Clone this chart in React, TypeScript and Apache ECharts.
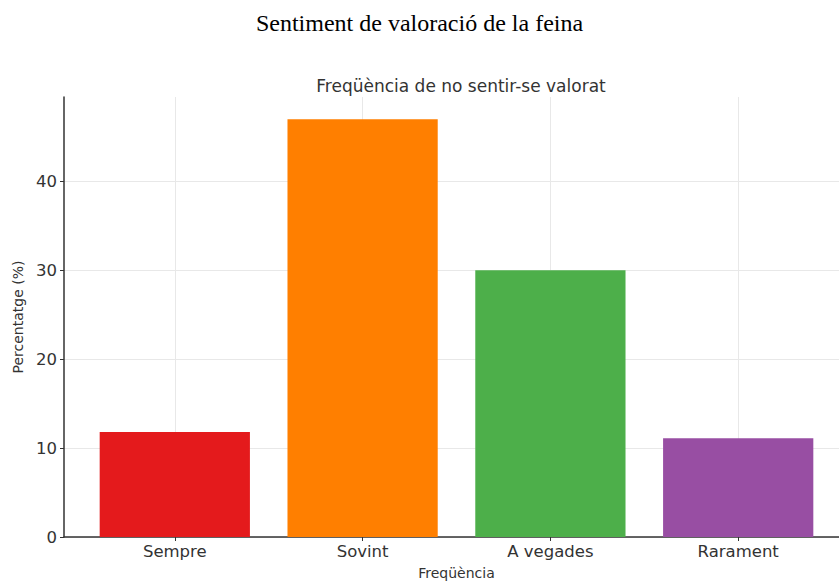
import React, { useEffect, useRef } from "react";
import * as echarts from "echarts";

const mainTitle = "Sentiment de valoració de la feina";
const chartTitle = "Freqüència de no sentir-se valorat";
const xAxisTitle = "Freqüència";
const yAxisTitle = "Percentatge (%)";
const categories = ["Sempre", "Sovint", "A vegades", "Rarament"];
const values = [11.8, 47, 30, 11.1];
const barColors = ["#e41a1c", "#ff7f00", "#4daf4a", "#984ea3"];
const yTicks = [0, 10, 20, 30, 40];
const xTicks = [0, 1, 2, 3];

export default function App() {
  const ref = useRef<HTMLDivElement>(null);
  useEffect(() => {
    if (!ref.current) return;
    const chart = echarts.init(ref.current, null, { renderer: "svg" });
    const font = "DejaVu Sans";
    chart.setOption({
      animation: false,
      backgroundColor: "#ffffff",
      title: [
        {
          text: mainTitle,
          left: "center",
          top: 6,
          textStyle: {
            fontFamily: "Liberation Serif",
            fontSize: 24,
            fontWeight: "normal",
            color: "#000000",
          },
        },
        {
          text: chartTitle,
          left: 456,
          textAlign: "center",
          top: 72,
          textStyle: {
            fontFamily: font,
            fontSize: 17,
            fontWeight: "normal",
            color: "#333333",
          },
        },
      ],
      grid: {
        left: 64,
        top: 97,
        width: 785,
        bottom: 46,
        containLabel: false,
        outerBoundsMode: "none",
      },
      xAxis: {
        type: "value",
        min: -0.59,
        max: 3.59,
        name: xAxisTitle,
        nameLocation: "middle",
        nameGap: 29,
        nameTextStyle: { fontFamily: font, fontSize: 14, color: "#333333" },
        axisLine: { show: true, onZero: false, lineStyle: { color: "#333333", width: 1.5 } },
        axisTick: {
          show: true,
          customValues: xTicks,
          length: 4,
          lineStyle: { color: "#333333" },
        },
        axisLabel: {
          customValues: xTicks,
          formatter: (v: number) => categories[Math.round(v)] ?? "",
          fontFamily: font,
          fontSize: 16.5,
          color: "#333333",
          margin: 6,
        },
        splitLine: { show: true, lineStyle: { color: "#e8e8e8", width: 1 } },
      },
      yAxis: {
        type: "value",
        min: 0,
        max: 49.5,
        name: yAxisTitle,
        nameLocation: "middle",
        nameGap: 37,
        nameTextStyle: { fontFamily: font, fontSize: 14, color: "#333333" },
        axisLine: { show: true, onZero: false, lineStyle: { color: "#333333", width: 1.5 } },
        axisTick: {
          show: true,
          customValues: yTicks,
          length: 4,
          lineStyle: { color: "#333333" },
        },
        axisLabel: {
          customValues: yTicks,
          fontFamily: font,
          fontSize: 16.5,
          color: "#333333",
          margin: 7,
        },
        splitLine: { show: true, lineStyle: { color: "#e8e8e8", width: 1 } },
      },
      series: [
        {
          type: "bar",
          barWidth: "80%",
          data: values.map((v, i) => ({
            value: [i, v],
            itemStyle: { color: barColors[i] },
          })),
        },
      ],
    });
    return () => chart.dispose();
  }, []);
  return (
    <div
      ref={ref}
      style={{ position: "fixed", left: 0, top: 0, width: 839, height: 583 }}
    />
  );
}
